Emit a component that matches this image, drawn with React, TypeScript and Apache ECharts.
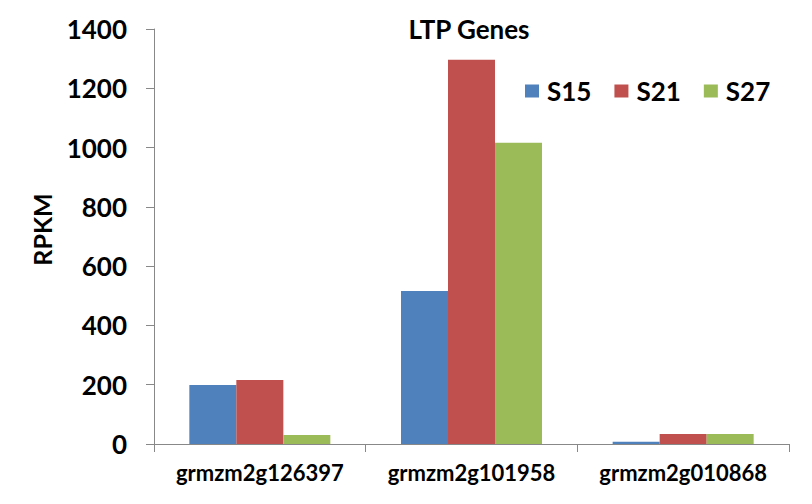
import React, { useEffect, useRef } from "react";
import * as echarts from "echarts";

const categories = ["grmzm2g126397", "grmzm2g101958", "grmzm2g010868"];
const seriesNames = ["S15", "S21", "S27"];
const s15 = [199, 516, 8];
const s21 = [216, 1296, 34];
const s27 = [30, 1016, 34];
const colors = ["#4F81BD", "#C0504D", "#9BBB59"];

const FONT = "Lato, 'Open Sans', sans-serif";

export default function App() {
  const ref = useRef<HTMLDivElement>(null);
  useEffect(() => {
    if (!ref.current) return;
    const chart = echarts.init(ref.current, undefined, { renderer: "svg" });
    const values = [s15, s21, s27];
    chart.setOption({
      animation: false,
      backgroundColor: "#ffffff",
      title: {
        text: "LTP Genes",
        left: 464,
        top: 11,
        textAlign: "center",
        textStyle: { fontFamily: FONT, fontWeight: "bold", fontSize: 26, color: "#000" },
      },
      legend: {
        left: 525,
        top: 78,
        padding: 0,
        icon: "rect",
        itemWidth: 14,
        itemHeight: 13,
        itemGap: 23,
        textStyle: {
          fontFamily: FONT,
          fontWeight: "bold",
          fontSize: 26,
          color: "#000",
          padding: [0, 0, 0, 3],
        },
        data: seriesNames,
      },
      grid: { left: 154, right: 23, top: 29, bottom: 60, containLabel: false },
      xAxis: {
        type: "category",
        data: categories,
        axisLine: { lineStyle: { color: "#888", width: 1 } },
        axisTick: { show: true, alignWithLabel: false, length: 8, lineStyle: { color: "#888" } },
        axisLabel: {
          interval: 0,
          hideOverlap: false,
          fontFamily: FONT,
          fontWeight: "bold",
          fontSize: 22,
          color: "#000",
          margin: 17,
        },
      },
      yAxis: {
        type: "value",
        min: 0,
        max: 1400,
        interval: 200,
        name: "RPKM",
        nameLocation: "middle",
        nameGap: 100,
        nameTextStyle: {
          fontFamily: FONT,
          fontWeight: "bold",
          fontSize: 25,
          color: "#000",
          padding: [0, 0, 0, 14],
        },
        axisLine: { show: true, lineStyle: { color: "#888", width: 1 } },
        axisTick: { show: true, length: 8, lineStyle: { color: "#888" } },
        splitLine: { show: false },
        axisLabel: {
          fontFamily: FONT,
          fontWeight: "bold",
          fontSize: 26,
          color: "#000",
          margin: 27,
          formatter: (v: number) => String(v),
        },
      },
      series: seriesNames.map((n, i) => ({
        name: n,
        type: "bar",
        data: values[i],
        barWidth: 47,
        barGap: "0%",
        itemStyle: { color: colors[i] },
      })),
    });
    return () => chart.dispose();
  }, []);
  return <div ref={ref} style={{ width: 812, height: 504, position: "absolute", left: 0, top: 0 }} />;
}
